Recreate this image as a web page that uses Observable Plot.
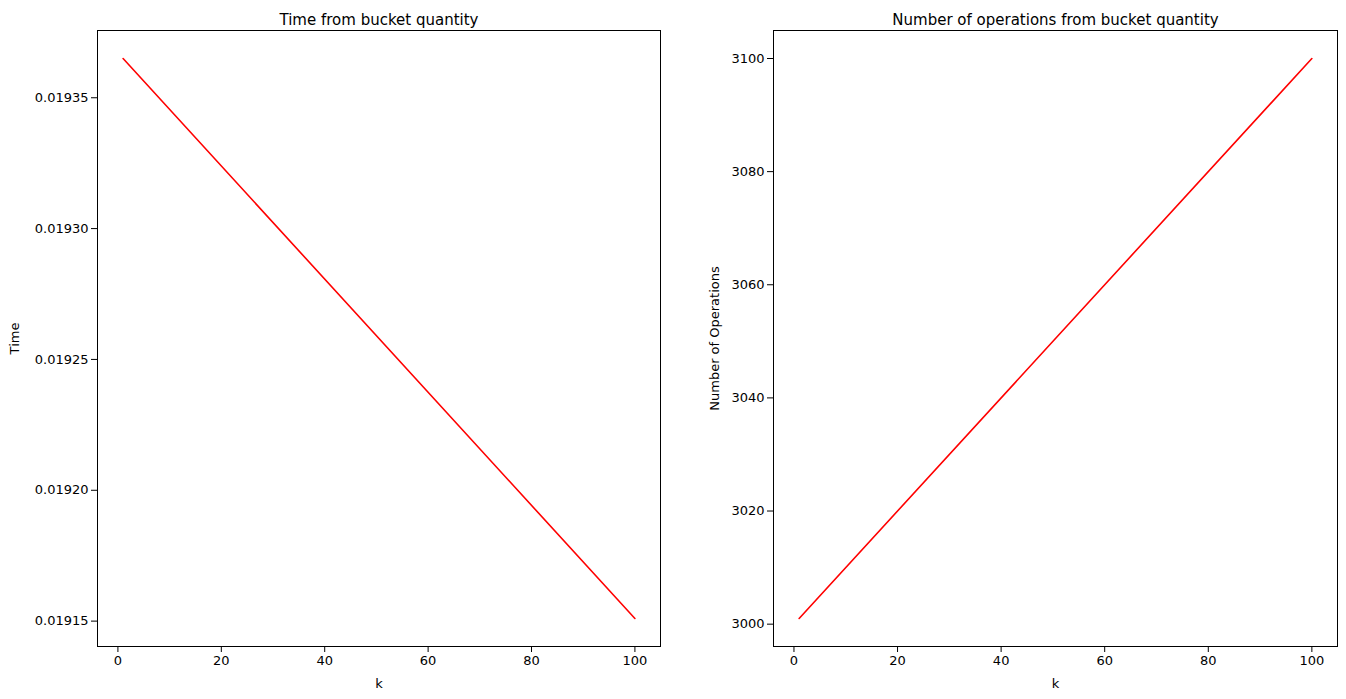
<!DOCTYPE html>
<html>
<head>
<meta charset="utf-8">
<script src="https://cdn.jsdelivr.net/npm/d3@7"></script>
<script src="https://cdn.jsdelivr.net/npm/@observablehq/plot@0.6"></script>
<style>
  body { margin: 0; background: #fff; }
  #wrap { position: relative; width: 1346px; height: 699px; }
  #chart1, #chart2 { position: absolute; top: 0; }
  #chart1 { left: 0; }
  #chart2 { left: 673px; }
</style>
</head>
<body>
<div id="wrap"><div id="chart1"></div><div id="chart2"></div></div>
<script>
// values
const kValues = [1, 100]
const timeValues = [0.019365, 0.019151]
const opsValues = [3001, 3100]
const kTicks = [0, 20, 40, 60, 80, 100]
const timeTicks = [0.01915, 0.01920, 0.01925, 0.01930, 0.01935]
const opsTicks = [3000, 3020, 3040, 3060, 3080, 3100]

const timeData = kValues.map((k, i) => ({k, v: timeValues[i]}))
const opsData = kValues.map((k, i) => ({k, v: opsValues[i]}))

function panel(data, opts) {
  return Plot.plot({
    width: 673,
    height: 699,
    marginTop: 30,
    marginBottom: 53,
    marginLeft: opts.ml,
    marginRight: opts.mr,
    style: {fontFamily: "DejaVu Sans", fontSize: "13px", color: "#000", background: "#fff"},
    x: {domain: [-3.95, 104.95], ticks: kTicks, label: "k", labelAnchor: "center", labelArrow: "none", labelOffset: 41},
    y: {domain: opts.ydom, ticks: opts.yticks, tickFormat: opts.fmt, label: opts.ylabel, labelAnchor: "center", labelArrow: "none", labelOffset: opts.lo},
    marks: [
      Plot.frame({stroke: "#000"}),
      Plot.line(data, {x: "k", y: "v", stroke: "red", strokeWidth: 1.6}),
      Plot.text([opts.title], {frameAnchor: "top", dy: -16, text: d => d, fontSize: 15})
    ]
  })
}

d3.select('#chart1').append(() => panel(timeData, {
  ml: 97, mr: 13, ydom: [0.0191403, 0.0193757], yticks: timeTicks, fmt: d3.format(".5f"),
  ylabel: "Time", lo: 88, title: "Time from bucket quantity"
}))
d3.select('#chart2').append(() => panel(opsData, {
  ml: 100, mr: 9, ydom: [2996.05, 3104.95], yticks: opsTicks, fmt: d3.format("d"),
  ylabel: "Number of Operations", lo: 64, title: "Number of operations from bucket quantity"
}))
</script>
</body>
</html>
